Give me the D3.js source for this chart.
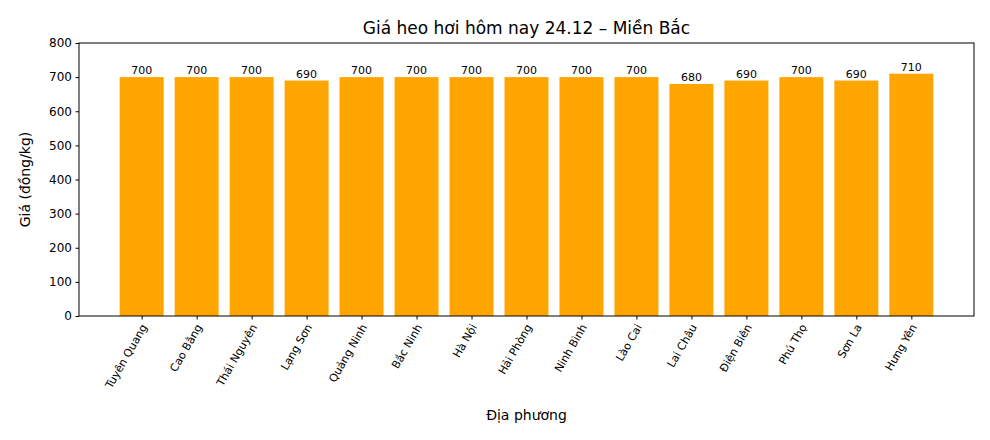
<!DOCTYPE html>
<html>
<head>
<meta charset="utf-8">
<style>
  body { margin: 0; background: #fff; font-family: "DejaVu Sans", sans-serif; }
  text { fill: #000; }
</style>
</head>
<body>
<script src="https://d3js.org/d3.v7.min.js"></script>
<script>
var provinces = ["Tuyên Quang", "Cao Bằng", "Thái Nguyên", "Lạng Sơn", "Quảng Ninh", "Bắc Ninh", "Hà Nội", "Hải Phòng", "Ninh Bình", "Lào Cai", "Lai Châu", "Điện Biên", "Phú Thọ", "Sơn La", "Hưng Yên"];
var prices = [700, 700, 700, 690, 700, 700, 700, 700, 700, 700, 680, 690, 700, 690, 710];
var yTicks = [0, 100, 200, 300, 400, 500, 600, 700, 800];

var width = 990, height = 440;
var mLeft = 79, mRight = 974, mTop = 43, mBottom = 316;

var svg = d3.select("body").append("svg")
    .attr("width", width)
    .attr("height", height);

// matplotlib-like: bar width 0.8, 5% margins
var n = provinces.length;
var lo = -0.4, hi = n - 1 + 0.4, pad = (hi - lo) * 0.05;
var x = d3.scaleLinear().domain([lo - pad, hi + pad]).range([mLeft, mRight]);
var y = d3.scaleLinear().domain([0, 800]).range([mBottom, mTop]);

svg.selectAll("rect.bar")
    .data(prices)
  .enter().append("rect")
    .attr("class", "bar")
    .attr("x", function(d, i) { return x(i - 0.4); })
    .attr("width", x(0.8) - x(0))
    .attr("y", function(d) { return y(d); })
    .attr("height", function(d) { return y(0) - y(d); })
    .attr("fill", "#ffa500");

svg.selectAll("text.val")
    .data(prices)
  .enter().append("text")
    .attr("class", "val")
    .attr("x", function(d, i) { return x(i); })
    .attr("y", function(d) { return y(d) - 3; })
    .attr("text-anchor", "middle")
    .attr("font-size", 11)
    .text(function(d) { return d; });

var yAxis = svg.append("g")
    .attr("transform", "translate(" + mLeft + ",0)")
    .call(d3.axisLeft(y).tickValues(yTicks).tickSize(3.5).tickPadding(3.5));
yAxis.selectAll("text").attr("font-size", 12).attr("font-family", "DejaVu Sans");

var xAxis = svg.append("g")
    .attr("transform", "translate(0," + mBottom + ")")
    .call(d3.axisBottom(x).tickValues(d3.range(n)).tickSize(3.5)
      .tickFormat(function(i) { return provinces[i]; }));
xAxis.selectAll("text")
    .attr("font-size", 11)
    .attr("font-family", "DejaVu Sans")
    .attr("text-anchor", "end")
    .attr("dy", "0.35em")
    .attr("y", 0).attr("x", 0)
    .attr("transform", "translate(2,9) rotate(-60)");
svg.selectAll(".domain").remove();
svg.selectAll(".tick line").attr("stroke", "#000");

svg.append("rect")
    .attr("x", mLeft).attr("y", mTop)
    .attr("width", mRight - mLeft).attr("height", mBottom - mTop)
    .attr("fill", "none").attr("stroke", "#000").attr("stroke-width", 1);

svg.append("text")
    .attr("x", (mLeft + mRight) / 2).attr("y", 34)
    .attr("text-anchor", "middle").attr("font-size", 17)
    .text("Giá heo hơi hôm nay 24.12 – Miền Bắc");

svg.append("text")
    .attr("x", (mLeft + mRight) / 2).attr("y", 420)
    .attr("text-anchor", "middle").attr("font-size", 14)
    .text("Địa phương");

svg.append("text")
    .attr("transform", "translate(30," + (mTop + mBottom) / 2 + ") rotate(-90)")
    .attr("text-anchor", "middle").attr("font-size", 14)
    .text("Giá (đồng/kg)");
</script>
</body>
</html>
